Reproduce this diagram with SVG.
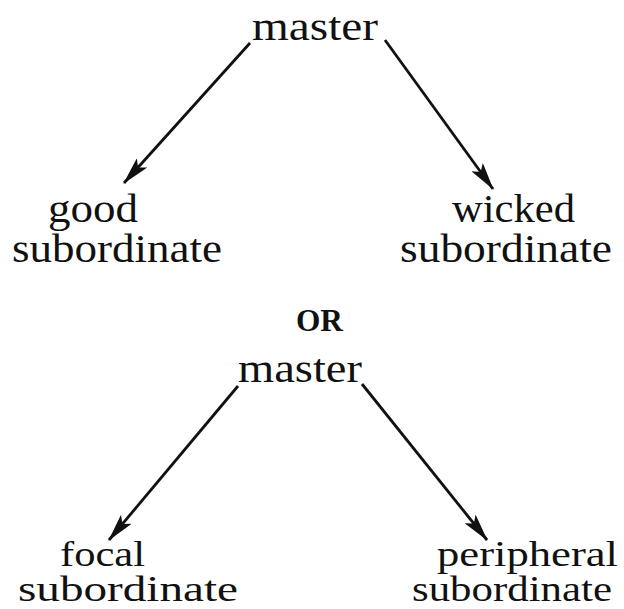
<svg xmlns="http://www.w3.org/2000/svg" width="624" height="609" viewBox="0 0 624 609">
<defs>
<style>
.t{font-family:"Liberation Serif","Times New Roman",serif;font-size:39px;fill:#111;}
.s{font-size:36px;}
.b{font-family:"Liberation Serif","Times New Roman",serif;font-size:32px;font-weight:bold;fill:#111;}
.c{stroke:#111;stroke-width:2.8;fill:none;}
</style>
<marker id="ah" markerWidth="28" markerHeight="14" refX="27" refY="7" orient="auto" markerUnits="userSpaceOnUse">
<path d="M0,0 L28,7 L0,14 L6,7 Z" fill="#111"/>
</marker>
</defs>
<rect width="624" height="609" fill="#fff"/>
<g id="connectors">
<line class="c" x1="250" y1="43" x2="124" y2="183" marker-end="url(#ah)"/>
<line class="c" x1="385" y1="40" x2="493" y2="189" marker-end="url(#ah)"/>
<line class="c" x1="238" y1="386" x2="109" y2="540" marker-end="url(#ah)"/>
<line class="c" x1="362" y1="384" x2="487" y2="540" marker-end="url(#ah)"/>
</g>
<g id="master1"><text class="t" x="252" y="40" textLength="126" lengthAdjust="spacingAndGlyphs">master</text></g>
<g id="good"><text class="t" x="48" y="222" textLength="90" lengthAdjust="spacingAndGlyphs">good</text>
<text class="t" x="12" y="262" textLength="210" lengthAdjust="spacingAndGlyphs">subordinate</text></g>
<g id="wicked"><text class="t" x="452" y="222" textLength="123" lengthAdjust="spacingAndGlyphs">wicked</text>
<text class="t" x="400" y="262" textLength="212" lengthAdjust="spacingAndGlyphs">subordinate</text></g>
<g id="or"><text class="b" x="296" y="331" textLength="47" lengthAdjust="spacingAndGlyphs">OR</text></g>
<g id="master2"><text class="t" x="238" y="382" textLength="124" lengthAdjust="spacingAndGlyphs">master</text></g>
<g id="focal"><text class="t s" x="60" y="566" textLength="85" lengthAdjust="spacingAndGlyphs">focal</text>
<text class="t s" x="18" y="601" textLength="220" lengthAdjust="spacingAndGlyphs">subordinate</text></g>
<g id="peripheral"><text class="t s" x="437" y="566" textLength="181" lengthAdjust="spacingAndGlyphs">peripheral</text>
<text class="t s" x="412" y="601" textLength="200" lengthAdjust="spacingAndGlyphs">subordinate</text></g>
</svg>
